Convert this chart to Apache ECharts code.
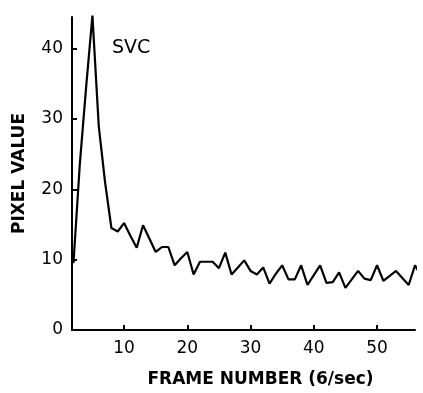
<!DOCTYPE html>
<html>
<head>
<meta charset="utf-8">
<script src="https://cdn.jsdelivr.net/npm/echarts@6/dist/echarts.min.js"></script>
<style>
html,body{margin:0;padding:0;background:#fff;}
#c{width:423px;height:393px;}
</style>
</head>
<body>
<div id="c"></div>
<script>
var frames = [2,3,4,5,6,7,8,9,10,11,12,13,14,15,16,17,18,19,20,21,22,23,24,25,26,27,28,29,30,31,32,33,34,35,36,37,38,39,40,41,42,43,44,45,46,47,48,49,50,51,52,53,54,55,56,57];
var pixelValues = [9.5,23.5,34.5,44.7,29,21,14.5,14.0,15.2,13.4,11.7,14.9,13.0,11.1,11.8,11.8,9.2,10.2,11.1,7.9,9.7,9.7,9.7,8.8,11.0,7.9,8.9,9.9,8.4,7.9,8.9,6.6,8.0,9.2,7.2,7.2,9.2,6.4,7.8,9.2,6.7,6.8,8.2,6.0,7.2,8.4,7.3,7.1,9.2,7.0,7.7,8.4,7.4,6.4,9.2,7.6];
var xTicks = [10,20,30,40,50];
var yTicks = [0,10,20,30,40];
var labelText = 'SVC';

var font = 'DejaVu Sans';
var chart = echarts.init(document.getElementById('c'), null, {renderer:'canvas'});
var data = frames.map(function(f,i){ return [f, pixelValues[i]]; });
chart.setOption({
  animation:false,
  backgroundColor:'#fff',
  grid:{left:72, top:17, right:8, bottom:63, containLabel:false, outerBoundsMode:'none'},
  xAxis:{
    type:'value', min:1.77, max:56.0,
    name:'FRAME NUMBER (6/sec)', nameLocation:'middle', nameGap:41,
    nameTextStyle:{fontFamily:font, fontSize:17, fontWeight:'bold', color:'#000', padding:[0,0,0,34]},
    axisLine:{show:true, onZero:false, lineStyle:{color:'#000', width:2}},
    axisTick:{show:true, inside:true, length:5, customValues:xTicks, lineStyle:{color:'#000', width:2}},
    axisLabel:{customValues:xTicks, fontFamily:font, fontSize:17, color:'#000', margin:10},
    splitLine:{show:false}
  },
  yAxis:{
    type:'value', min:0, max:44.5,
    name:'PIXEL VALUE', nameLocation:'middle', nameGap:44,
    nameTextStyle:{fontFamily:font, fontSize:17, fontWeight:'bold', color:'#000', padding:[0,0,0,0]},
    axisLine:{show:true, lineStyle:{color:'#000', width:2}},
    axisTick:{show:true, inside:true, length:5, customValues:yTicks, lineStyle:{color:'#000', width:2}},
    axisLabel:{customValues:yTicks, fontFamily:font, fontSize:17, color:'#000', margin:9},
    splitLine:{show:false}
  },
  graphic:[{
    type:'text', left:112, top:39,
    style:{text:labelText, fontFamily:font, fontSize:19, fill:'#000'}
  }],
  series:[{
    type:'line', data:data, showSymbol:false, symbol:'none', clip:false,
    lineStyle:{color:'#000', width:2.2}
  }]
});
</script>
</body>
</html>
